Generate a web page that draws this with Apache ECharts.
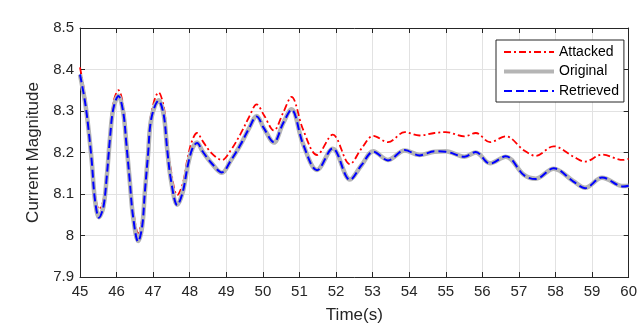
<!DOCTYPE html>
<html>
<head>
<meta charset="utf-8">
<script src="https://cdn.jsdelivr.net/npm/echarts@6/dist/echarts.min.js"></script>
<style>
  html, body { margin: 0; padding: 0; background: #fff; }
  #main { width: 640px; height: 329px; }
</style>
</head>
<body>
<div id="main"></div>
<script>
// sample times (s)
var times = [45.0, 45.14, 45.23, 45.32, 45.41, 45.52, 45.64, 45.73, 45.82, 45.91,
             46.05, 46.18, 46.27, 46.36, 46.45, 46.59, 46.70, 46.77, 46.86, 46.95,
             47.15, 47.29, 47.38, 47.49, 47.66, 47.81, 47.95, 48.08, 48.20, 48.35,
             48.58, 48.88, 49.12, 49.39, 49.62, 49.83, 50.03, 50.3, 50.55, 50.78,
             51.1, 51.48, 51.91, 52.38, 52.7, 53.02, 53.42, 53.88, 54.28, 54.69,
             55.0, 55.51, 55.82, 56.21, 56.64, 57.14, 57.46, 57.95, 58.49, 58.81,
             59.27, 59.85, 60.0];

var attacked = [8.405, 8.335, 8.27, 8.195, 8.10, 8.063, 8.085, 8.155, 8.25, 8.32,
                8.350, 8.315, 8.235, 8.15, 8.065, 8.006, 8.04, 8.115, 8.21, 8.295,
                8.345, 8.31, 8.235, 8.155, 8.097, 8.125, 8.19, 8.232, 8.247, 8.228,
                8.20, 8.182, 8.205, 8.245, 8.285, 8.316, 8.29, 8.253, 8.295, 8.334,
                8.255, 8.194, 8.243, 8.172, 8.21, 8.24, 8.225, 8.249, 8.241, 8.247,
                8.249, 8.239, 8.247, 8.225, 8.239, 8.205, 8.192, 8.215, 8.19, 8.178,
                8.195, 8.182, 8.185];

var original = [8.388, 8.321, 8.258, 8.18, 8.085, 8.044, 8.069, 8.14, 8.235, 8.305,
                8.337, 8.298, 8.219, 8.132, 8.046, 7.987, 8.022, 8.101, 8.195, 8.282,
                8.326, 8.29, 8.211, 8.132, 8.074, 8.105, 8.17, 8.211, 8.224, 8.203,
                8.176, 8.151, 8.18, 8.219, 8.258, 8.288, 8.258, 8.224, 8.27, 8.304,
                8.22, 8.158, 8.209, 8.135, 8.17, 8.203, 8.182, 8.205, 8.194, 8.202,
                8.203, 8.19, 8.20, 8.174, 8.19, 8.146, 8.137, 8.161, 8.131, 8.115,
                8.139, 8.119, 8.12];

var retrieved = [8.388, 8.321, 8.258, 8.18, 8.085, 8.043, 8.069, 8.14, 8.235, 8.305,
                 8.336, 8.298, 8.219, 8.132, 8.046, 7.985, 8.022, 8.101, 8.195, 8.282,
                 8.325, 8.29, 8.211, 8.132, 8.073, 8.105, 8.17, 8.211, 8.223, 8.203,
                 8.176, 8.152, 8.18, 8.219, 8.258, 8.287, 8.258, 8.225, 8.27, 8.303,
                 8.22, 8.157, 8.21, 8.134, 8.17, 8.202, 8.181, 8.206, 8.193, 8.203,
                 8.202, 8.19, 8.201, 8.173, 8.191, 8.145, 8.136, 8.162, 8.13, 8.114,
                 8.14, 8.118, 8.12];

var xTicks = [45, 60, 1];
var yTicks = [7.9, 8.5, 0.1];

function pairs(ys) {
    return times.map(function (t, i) { return [t, ys[i]]; });
}

var axisColor = '#262626';
var font = 'Liberation Sans, Arial, sans-serif';

var chart = echarts.init(document.getElementById('main'));

option = {
    animation: false,
    backgroundColor: '#ffffff',
    grid: { left: 80, right: 8, top: 28, bottom: 48 },
    legend: {
        orient: 'vertical',
        left: 496,
        top: 40,
        padding: [5, 5, 4, 6],
        itemWidth: 50,
        itemHeight: 14,
        itemGap: 5.5,
        backgroundColor: '#ffffff',
        borderColor: axisColor,
        borderWidth: 1,
        borderRadius: 0,
        itemStyle: { opacity: 0 },
        textStyle: { fontFamily: font, fontSize: 14, color: '#000' },
        data: [
            { name: 'Attacked', lineStyle: { width: 1.8 } },
            { name: 'Original', lineStyle: { width: 4 } },
            { name: 'Retrieved', lineStyle: { width: 2 } }
        ]
    },
    xAxis: [{
        type: 'value',
        min: xTicks[0], max: xTicks[1], interval: xTicks[2],
        name: 'Time(s)',
        nameLocation: 'middle',
        nameGap: 30,
        nameTextStyle: { fontFamily: font, fontSize: 17, color: axisColor },
        axisLine: { lineStyle: { color: axisColor, width: 1 } },
        axisTick: { inside: true, length: 5, lineStyle: { color: axisColor } },
        axisLabel: { fontFamily: font, fontSize: 15, color: axisColor, margin: 7 },
        splitLine: { show: true, lineStyle: { color: '#e2e2e2', width: 1 } }
    }, {
        type: 'value', position: 'top',
        min: xTicks[0], max: xTicks[1], interval: xTicks[2],
        axisLine: { show: true, lineStyle: { color: axisColor, width: 1 } },
        axisTick: { inside: true, length: 5, lineStyle: { color: axisColor } },
        axisLabel: { show: false },
        splitLine: { show: false }
    }],
    yAxis: [{
        type: 'value',
        min: yTicks[0], max: yTicks[1], interval: yTicks[2],
        name: 'Current Magnitude',
        nameLocation: 'middle',
        nameGap: 30,
        nameTextStyle: { fontFamily: font, fontSize: 17, color: axisColor },
        axisLine: { show: true, lineStyle: { color: axisColor, width: 1 } },
        axisTick: { show: true, inside: true, length: 5, lineStyle: { color: axisColor } },
        axisLabel: {
            fontFamily: font, fontSize: 15, color: axisColor, margin: 6,
            formatter: function (v) { return parseFloat(v.toFixed(1)).toString(); }
        },
        splitLine: { show: true, lineStyle: { color: '#e2e2e2', width: 1 } }
    }, {
        type: 'value', position: 'right',
        min: yTicks[0], max: yTicks[1], interval: yTicks[2],
        axisLine: { show: true, lineStyle: { color: axisColor, width: 1 } },
        axisTick: { show: true, inside: true, length: 5, lineStyle: { color: axisColor } },
        axisLabel: { show: false },
        splitLine: { show: false }
    }],
    series: [{
        name: 'Attacked',
        type: 'line',
        smooth: 0.35,
        symbol: 'none',
        z: 2,
        lineStyle: { color: '#ff0000', width: 1.8, type: [7, 3, 2, 3] },
        itemStyle: { color: '#ff0000' },
        data: pairs(attacked)
    }, {
        name: 'Original',
        type: 'line',
        smooth: 0.35,
        symbol: 'none',
        z: 3,
        lineStyle: { color: '#b5b5b5', width: 4.5 },
        itemStyle: { color: '#b5b5b5' },
        data: pairs(original)
    }, {
        name: 'Retrieved',
        type: 'line',
        smooth: 0.35,
        symbol: 'none',
        z: 4,
        lineStyle: { color: '#0000ff', width: 2, type: [8, 4] },
        itemStyle: { color: '#0000ff' },
        data: pairs(retrieved)
    }]
};

chart.setOption(option);
</script>
</body>
</html>
